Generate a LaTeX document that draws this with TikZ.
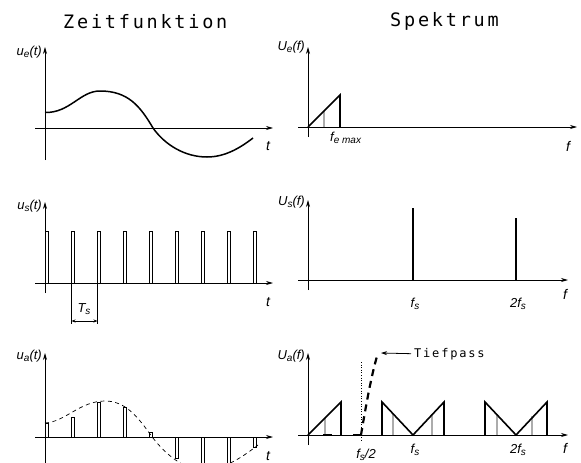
\documentclass[tikz,border=0pt]{standalone}
\usepackage{fontspec}
\setmainfont{Liberation Sans}
\newfontfamily\titlefont[LetterSpace=15]{DejaVu Sans Mono}
\usetikzlibrary{arrows.meta}
\newcommand\lsub[1]{\raisebox{-0.35ex}{\fontsize{10}{10}\selectfont #1}}
\begin{document}
\begin{tikzpicture}[x=1pt,y=-1pt,
  axis/.style={line width=0.7pt,-{Stealth[length=7pt,width=4pt]}},
  curve/.style={line width=1.5pt},
  dcurve/.style={line width=0.7pt,dash pattern=on 4pt off 3.5pt},
  pulse/.style={line width=0.8pt},
  spec/.style={line width=1.6pt,line join=miter},
  specline/.style={line width=2pt},
  grayline/.style={line width=1.5pt,gray!65},
  tp/.style={line width=2.2pt,dash pattern=on 7pt off 5pt},
  title/.style={font=\titlefont\fontsize{18.5}{18.5}\selectfont,inner sep=0pt},
  tptext/.style={font=\titlefont\fontsize{12}{12}\selectfont,inner sep=0pt},
  lbl/.style={font=\fontsize{13}{13}\selectfont\itshape,inner sep=0pt},
  albl/.style={font=\fontsize{14}{14}\selectfont\itshape,inner sep=0pt},
]
\useasboundingbox (0,0) rectangle (581,463);
\clip (0,0) rectangle (581,463);

% titles
\node[title,anchor=base west] (tz) at (63,28) {Zeitfunktion};
\node[title,anchor=base west] (tsp) at (390,27) {Spektrum};

% ---------- top left ----------
\draw[axis] (45,160) -- (45,47);
\draw[axis] (35,128) -- (273,128);
\draw[curve] (45,112.5) .. controls (70,113) and (80,91) .. (100,91)
  .. controls (128,91) and (140,106) .. (153,128)
  .. controls (165,145) and (185,157) .. (207,157)
  .. controls (225,157) and (240,148) .. (253,138);
\node[lbl,anchor=east] (lue) at (42,52) {u\lsub{e}(t)};
\node[albl] (lt1) at (268,146) {t};

% ---------- top right ----------
\draw[axis] (308,137) -- (308,47);
\draw[axis] (298,127) -- (577,127);
\draw[grayline] (324,127) -- (324,111);
\draw[spec] (308,127) -- (340,95) -- (340,127);
\node[lbl,anchor=east] (lUe) at (305,47) {U\lsub{e}(f)};
\node[lbl,anchor=base west] (lfe) at (330,141) {f\lsub{e max}};
\node[albl] (lf1) at (568,146) {f};

% ---------- middle left ----------
\draw[axis] (45,293) -- (45,202);
\draw[axis] (35,283) -- (273,283);
\foreach \k in {0,...,8}{
  \draw[pulse] ({45.5+26*\k},283) -- ({45.5+26*\k},231) -- ({48.5+26*\k},231) -- ({48.5+26*\k},283);
}
\draw[line width=0.5pt] (71.5,283) -- (71.5,324);
\draw[line width=0.5pt] (97.5,283) -- (97.5,324);
\coordinate (ts1) at (71.5,321);
\coordinate (ts2) at (97.5,321);
\draw[line width=0.6pt,{Stealth[length=4pt,width=3pt]}-{Stealth[length=4pt,width=3pt]}] (ts1) -- (ts2);
\node[lbl] (lTs) at (84,309) {T\lsub{s}};
\node[lbl,anchor=east] (lus) at (42,206) {u\lsub{s}(t)};
\node[albl] (lt2) at (268,302) {t};

% ---------- middle right ----------
\draw[axis] (308,290) -- (308,200);
\draw[axis] (298,280) -- (568,280);
\draw[specline] (413,280) -- (413,208);
\draw[specline] (516,280) -- (516,218);
\node[lbl,anchor=east] (lUs) at (305,202) {U\lsub{s}(f)};
\node[lbl] (lfs1) at (415,304) {f\lsub{s}};
\node[lbl] (l2fs1) at (518,304) {2f\lsub{s}};
\node[albl] (lf2) at (565,294) {f};

% ---------- bottom left ----------
\draw[axis] (45,470) -- (45,353);
\draw[axis] (35,437) -- (273,437);
\draw[dcurve] (45,423) .. controls (65,422) and (80,401) .. (105,401)
  .. controls (125,401) and (137,416) .. (150,434)
  .. controls (165,455) and (185,470) .. (203,470)
  .. controls (225,470) and (245,455) .. (258,445);
\foreach \k/\y in {0/423,1/417,2/402,3/407,4/432,5/458,6/470,7/465,8/447}{
  \draw[pulse] ({45.5+26*\k},437) -- ({45.5+26*\k},\y) -- ({48.5+26*\k},\y) -- ({48.5+26*\k},437);
}
\node[lbl,anchor=east] (lua) at (42,356) {u\lsub{a}(t)};
\node[albl] (lt3) at (268,456) {t};

% ---------- bottom right ----------
\draw[axis] (308,445) -- (308,353);
\draw[axis] (298,435) -- (568,435);
\draw[line width=0.6pt,dotted] (361,362) -- (361,442);
\draw[grayline] (325,435) -- (325,418);
\draw[grayline] (393,435) -- (393,414);
\draw[grayline] (432,435) -- (432,414);
\draw[grayline] (497,435) -- (497,414);
\draw[grayline] (532,435) -- (532,416);
\draw[spec] (308,435) -- (341,402) -- (341,435);
\draw[spec] (382,435) -- (382,402) -- (413,435) -- (444,402) -- (444,435);
\draw[spec] (485,435) -- (485,402) -- (516,435) -- (547,402) -- (547,435);
\draw[line width=2.2pt] (323,435) -- (332,435);
\draw[line width=2.2pt] (353,435) -- (361,435);
\coordinate (tptop) at (378,353);
\draw[tp] (361,435) .. controls (366,405) and (372,372) .. (tptop);
\node[tptext,anchor=base west] (ltp) at (414,357) {Tiefpass};
\draw[line width=0.8pt,-{Stealth[length=6pt,width=4pt]}] (ltp.west) ++(-3,0) coordinate (tpa) -- (381,353);
\node[lbl,anchor=east] (lUa) at (305,356) {U\lsub{a}(f)};
\node[lbl] (lfs2) at (415,450) {f\lsub{s}};
\node[lbl] (l2fs2) at (518,450) {2f\lsub{s}};
\node[lbl] (lfs2h) at (366,455) {f\lsub{s}/2};
\node[albl] (lf3) at (565,448) {f};
\end{tikzpicture}
\end{document}
